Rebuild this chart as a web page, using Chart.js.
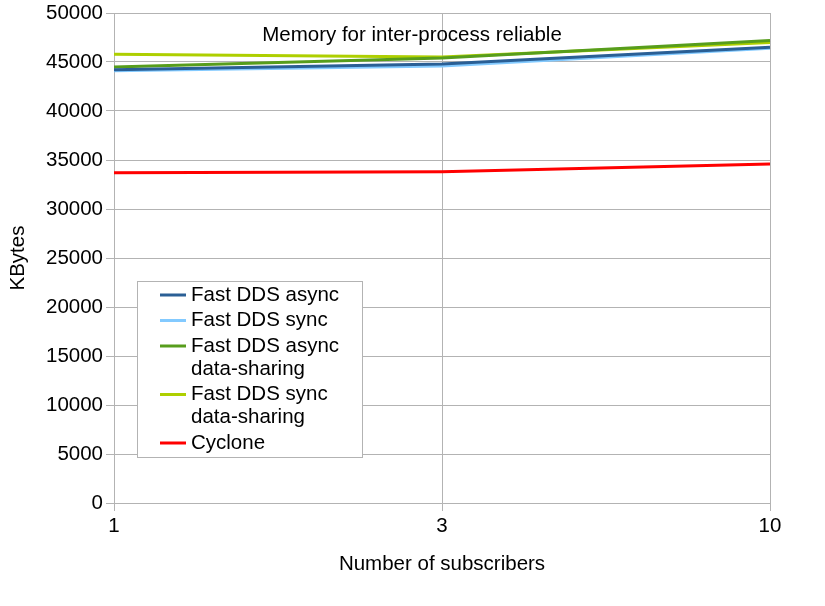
<!DOCTYPE html>
<html>
<head>
<meta charset="utf-8">
<script src="https://cdn.jsdelivr.net/npm/chart.js@4"></script>
<style>
  body { margin: 0; background: #fff; }
  #wrap { width: 825px; height: 606px; }
</style>
</head>
<body>
<div id="wrap"><canvas id="memChart" width="825" height="606"></canvas></div>
<script>
const subscribers = ["1", "3", "10"];
const fastAsync = [44200, 44800, 46500];
const fastSync = [44100, 44600, 46400];
const fastAsyncShm = [44500, 45400, 47200];
const fastSyncShm = [45800, 45500, 47000];
const cyclone = [33700, 33800, 34600];

const FONT = "'Liberation Sans', Arial, sans-serif";
const FS = 20.5;
const gridColor = "#b3b3b3";

// legend box drawn inside the plot, like the original spreadsheet chart
const insideLegend = {
  id: "insideLegend",
  afterDraw(chart) {
    const ctx = chart.ctx;
    const x0 = 137, y0 = 281, w = 225, h = 176;
    ctx.save();
    ctx.fillStyle = "#fff";
    ctx.fillRect(x0, y0, w, h);
    ctx.strokeStyle = gridColor;
    ctx.lineWidth = 1;
    ctx.strokeRect(x0 + 0.5, y0 + 0.5, w, h);
    ctx.font = FS + "px " + FONT;
    ctx.textBaseline = "middle";
    let y = y0 + 14;
    chart.data.datasets.forEach((ds) => {
      const lines = [].concat(ds.label);
      ctx.strokeStyle = ds.borderColor;
      ctx.lineWidth = 3;
      ctx.beginPath();
      ctx.moveTo(160, y);
      ctx.lineTo(186, y);
      ctx.stroke();
      ctx.fillStyle = "#000";
      lines.forEach((t, i) => ctx.fillText(t, 191, y + i * 23));
      y += 25.5 + (lines.length - 1) * 23;
    });
    ctx.restore();
  },
};

const insideTitle = {
  id: "insideTitle",
  afterDraw(chart) {
    const ctx = chart.ctx;
    ctx.save();
    ctx.font = FS + "px " + FONT;
    ctx.fillStyle = "#000";
    ctx.textAlign = "center";
    ctx.textBaseline = "middle";
    ctx.fillText("Memory for inter-process reliable", 412, 35);
    ctx.restore();
  },
};

const line = (label, data, color) => ({
  label: label,
  data: data,
  borderColor: color,
  backgroundColor: color,
  borderWidth: 3,
  pointRadius: 0,
  tension: 0,
  fill: false,
});

new Chart(document.getElementById("memChart"), {
  type: "line",
  data: {
    labels: subscribers,
    datasets: [
      line("Fast DDS async", fastAsync, "#2a5f95"),
      line("Fast DDS sync", fastSync, "#83caff"),
      line(["Fast DDS async", "data-sharing"], fastAsyncShm, "#579d1c"),
      line(["Fast DDS sync", "data-sharing"], fastSyncShm, "#aecf00"),
      line("Cyclone", cyclone, "#ff0000"),
    ],
  },
  options: {
    responsive: false,
    animation: false,
    layout: { padding: { top: 13, right: 55, left: 0, bottom: 0 } },
    plugins: {
      legend: { display: false },
      tooltip: { enabled: false },
    },
    scales: {
      x: {
        offset: false,
        grid: { color: gridColor, tickLength: 8, drawTicks: true },
        border: { color: gridColor },
        ticks: { color: "#000", font: { family: FONT, size: FS }, padding: 3, maxRotation: 0 },
        title: {
          display: true,
          text: "Number of subscribers",
          color: "#000",
          font: { family: FONT, size: FS },
          padding: { top: 0, bottom: 29 },
        },
        afterFit: (s) => { s.height = 103; },
      },
      y: {
        min: 0,
        max: 50000,
        grid: { color: gridColor, tickLength: 8 },
        border: { color: gridColor },
        ticks: {
          stepSize: 5000,
          color: "#000",
          font: { family: FONT, size: FS, lineHeight: 1 },
          padding: 3,
          callback: (v) => String(v),
        },
        title: {
          display: true,
          text: "KBytes",
          color: "#000",
          font: { family: FONT, size: FS },
          padding: { top: 6, bottom: 0 },
        },
        afterFit: (s) => { s.width = 114; s.paddingTop = 0; },
      },
    },
  },
  plugins: [insideLegend, insideTitle],
});
</script>
</body>
</html>
